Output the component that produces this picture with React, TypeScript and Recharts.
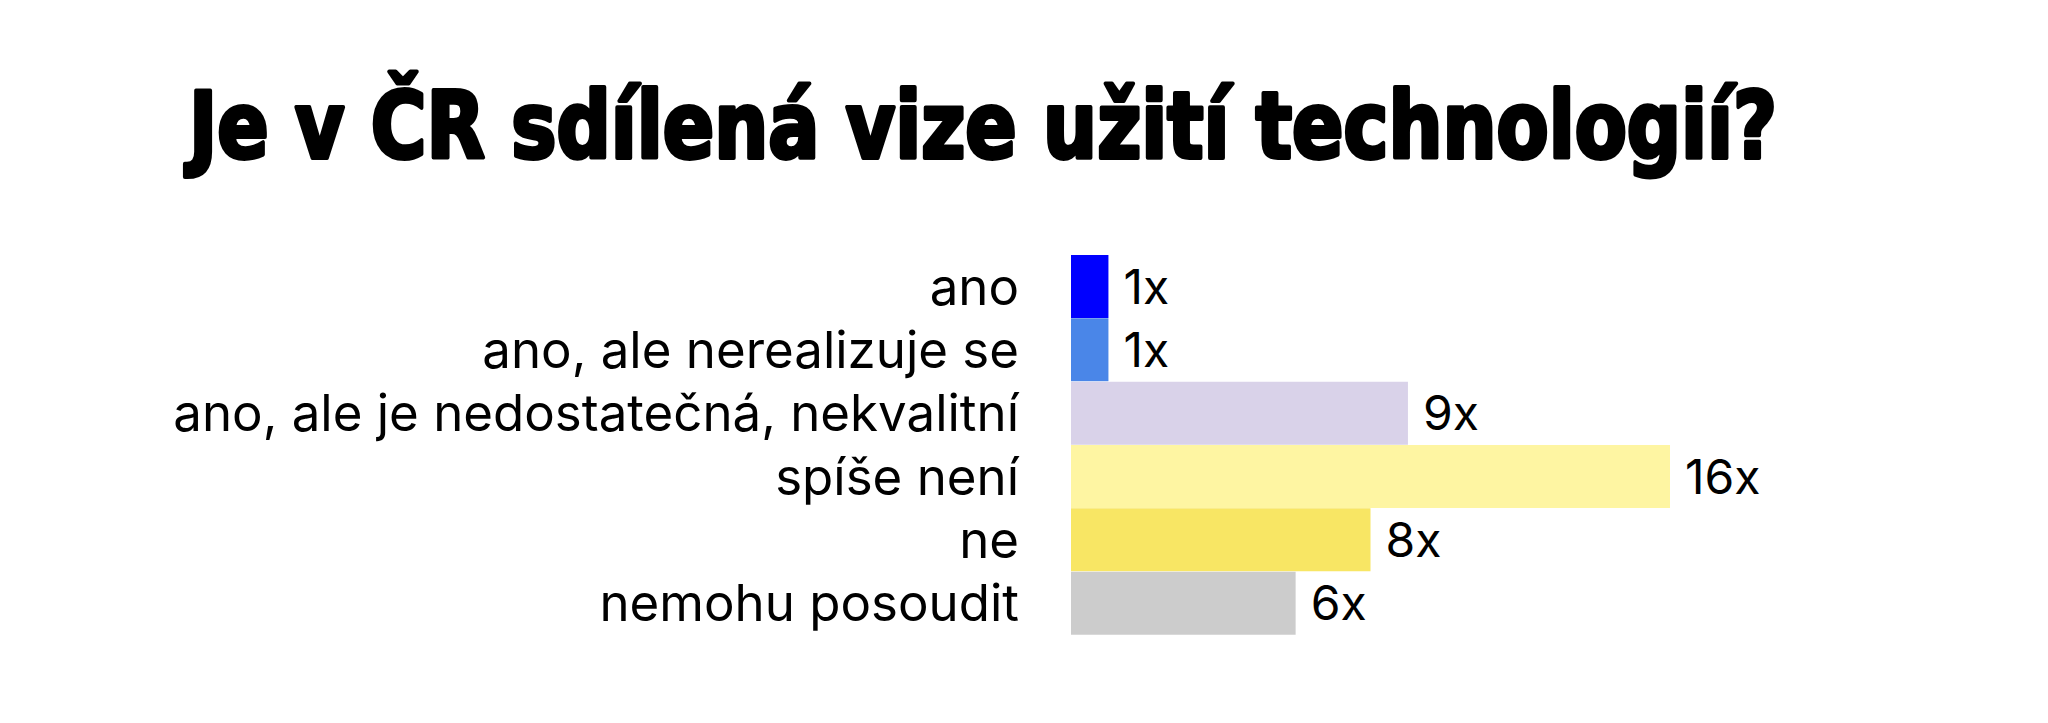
import { BarChart, Bar, XAxis, YAxis, Cell, LabelList } from "recharts";

const categories = [
  "ano",
  "ano, ale nerealizuje se",
  "ano, ale je nedostatečná, nekvalitní",
  "spíše není",
  "ne",
  "nemohu posoudit",
];
const counts = [1, 1, 9, 16, 8, 6];
const barColors = ["#0000ff", "#4a86e8", "#d9d2e9", "#fef5a2", "#f8e664", "#cccccc"];

const title = "Je v ČR sdílená vize užití technologií?";

const data = categories.map((name, i) => ({ name, count: counts[i] }));

const labelFont = "Inter, 'Open Sans', sans-serif";

export default function App() {
  return (
    <div style={{ position: "relative", width: 2032, height: 707, background: "#fff" }}>
      <svg width={2032} height={200} style={{ position: "absolute", left: 0, top: 0 }}>
        <text
          x={181}
          y={150}
          fontFamily="'Liberation Sans Narrow', 'DejaVu Sans Condensed', sans-serif"
          fontWeight={900}
          fontSize={92}
          fill="#000"
          stroke="#000"
          strokeWidth={4}
          strokeLinejoin="round"
          textLength={1588}
          lengthAdjust="spacingAndGlyphs"
        >
          {title}
        </text>
      </svg>
      <div style={{ position: "absolute", left: 0, top: 0 }}>
        <BarChart
          width={2032}
          height={707}
          data={data}
          layout="vertical"
          barCategoryGap={0}
          margin={{ top: 247, right: 370, left: 0, bottom: 80 }}
        >
          <XAxis type="number" hide domain={[0, 16]} />
          <YAxis
            dataKey="name"
            type="category"
            width={1063}
            axisLine={false}
            tickLine={false}
            tickSize={0}
            tickMargin={52}
            interval={0}
            tick={{ fill: "#000", fontSize: 51, fontFamily: labelFont }}
          />
          <Bar dataKey="count" isAnimationActive={false}>
            {data.map((entry, index) => (
              <Cell key={`cell-${entry.name}`} fill={barColors[index]} />
            ))}
            <LabelList
              dataKey="count"
              position="right"
              offset={15}
              formatter={(v: number) => `${v}x`}
              fill="#000"
              fontSize={48}
              fontFamily={labelFont}
            />
          </Bar>
        </BarChart>
      </div>
    </div>
  );
}
